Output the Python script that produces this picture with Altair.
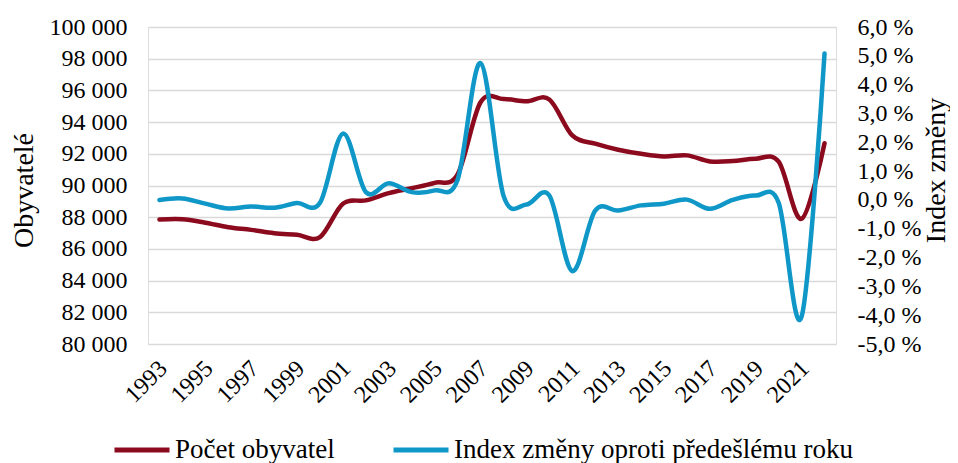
import altair as alt
import pandas as pd

years = [str(y) for y in range(1993, 2023)]
population = [87850, 87870, 87650, 87370, 87200, 86990, 86890, 86750, 88850, 89060,
              89520, 89830, 90170, 90700, 95250, 95450, 95310, 95430, 93160, 92640,
              92260, 92000, 91830, 91900, 91520, 91540, 91690, 91500, 87900, 92670]
index_change = [0.0, 0.05, -0.13, -0.3, -0.23, -0.27, -0.11, -0.1, 2.3, 0.27,
                0.58, 0.27, 0.33, 0.7, 4.75, 0.15, -0.16, 0.15, -2.47, -0.37,
                -0.37, -0.19, -0.13, 0.01, -0.31, 0.0, 0.15, -0.1, -4.05, 5.08]
series_names = ["Počet obyvatel", "Index změny oproti předešlému roku"]
series_colors = ["#8c0a1e", "#0f97c7"]
x_label_years = [str(y) for y in range(1993, 2022, 2)]
left_ticks = list(range(80000, 100001, 2000))
right_ticks = list(range(-5, 7))

df = pd.DataFrame({"year": years, "pop": population, "idx": index_change})

FONT = "Liberation Serif"

x_enc = alt.X(
    "year:O",
    sort=years,
    scale=alt.Scale(padding=0.5),
    axis=alt.Axis(values=x_label_years, labelAngle=-45, title=None, ticks=False,
                  domain=False, grid=False, labelFontSize=24, labelPadding=12,
                  labelOffset=-5, labelColor="#000000", labelFont=FONT),
)

color_enc = alt.Color(
    "series:N",
    scale=alt.Scale(domain=series_names, range=series_colors),
    legend=alt.Legend(orient="none", legendX=-36, legendY=393, direction="horizontal",
                      title=None, symbolType="stroke", symbolSize=3025,
                      symbolStrokeWidth=5, labelFontSize=27, labelFont=FONT,
                      labelColor="#000000", labelOffset=3, columnPadding=48,
                      padding=0, labelLimit=0),
)

pop_line = alt.Chart(df).transform_calculate(series="'Počet obyvatel'").mark_line(
    interpolate="cardinal", strokeWidth=4.5, strokeCap="round"
).encode(
    x=x_enc,
    y=alt.Y("pop:Q",
            scale=alt.Scale(domain=[80000, 100000], nice=False, zero=False),
            axis=alt.Axis(values=left_ticks,
                          labelExpr="replace(format(datum.value, ',d'), ',', ' ')",
                          title="Obyvatelé", grid=True, gridColor="#d9d9d9", gridWidth=1.5,
                          domain=False, ticks=False, labelPadding=21, labelFontSize=24,
                          labelFont=FONT, labelColor="#000000",
                          titleFont=FONT, titleFontSize=28, titleFontWeight="normal",
                          titleColor="#000000", titleX=-124, titleY=163,
                          titleBaseline="middle")),
    color=color_enc,
)

idx_line = alt.Chart(df).transform_calculate(
    series="'Index změny oproti předešlému roku'"
).mark_line(
    interpolate="cardinal", strokeWidth=4.5, strokeCap="round"
).encode(
    x=x_enc,
    y=alt.Y("idx:Q",
            scale=alt.Scale(domain=[-5, 6], nice=False, zero=False),
            axis=alt.Axis(orient="right", values=right_ticks,
                          labelExpr="(datum.value < 0 ? '-' : '') + replace(format(abs(datum.value), '.1f'), '.', ',') + ' %'",
                          title="Index změny", grid=False, domain=False, ticks=False,
                          labelPadding=21, labelFontSize=24, labelFont=FONT,
                          labelColor="#000000", titleFont=FONT, titleFontSize=28,
                          titleFontWeight="normal", titleColor="#000000",
                          titleAngle=270, titleX=100, titleY=143,
                          titleBaseline="middle")),
    color=color_enc,
)

chart = alt.layer(pop_line, idx_line).resolve_scale(y="independent").properties(
    width=688, height=317,
    autosize=alt.AutoSizeParams(type="none"),
    padding={"left": 140, "top": 19, "right": 114, "bottom": 119},
).configure_view(stroke=None).configure(font=FONT)

chart.save("out.html", embed_options={"renderer": "svg", "actions": False})
